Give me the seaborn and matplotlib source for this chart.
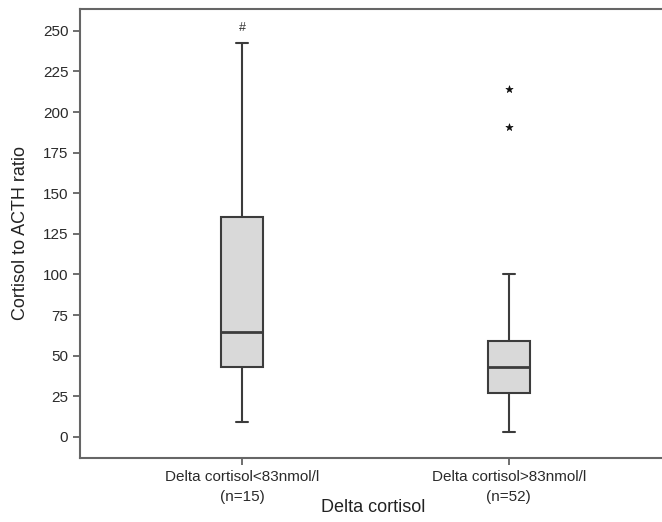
import numpy as np
import pandas as pd
import matplotlib
matplotlib.use("Agg")
import matplotlib.pyplot as plt
import seaborn as sns

# ── Data (five-number summaries) ──────────────────────────
groups = ["Delta cortisol<83nmol/l\n(n=15)", "Delta cortisol>83nmol/l\n(n=52)"]
low_min, low_q1, low_med, low_q3, low_max = 9.4, 43.2, 64.5, 135.3, 242.2
high_min, high_q1, high_med, high_q3, high_max = 2.9, 26.8, 43.2, 59.0, 100.1
outlier_vals = [214.2, 190.6]
outlier_group = [groups[1], groups[1]]
yticks = [0, 25, 50, 75, 100, 125, 150, 175, 200, 225, 250]

df = pd.DataFrame({
    "group": [groups[0]] * 5 + [groups[1]] * 5,
    "ratio": [low_min, low_q1, low_med, low_q3, low_max,
              high_min, high_q1, high_med, high_q3, high_max],
})
out_df = pd.DataFrame({"group": outlier_group, "ratio": outlier_vals})

sns.set_style("white")
plt.rcParams["font.family"] = ["Liberation Sans", "DejaVu Sans"]

fig = plt.figure(figsize=(6.62, 5.22), dpi=100)
ax = fig.add_axes([0.121, 0.123, 0.885, 0.86])

edge = "#3c3c3c"
sns.boxplot(data=df, x="group", y="ratio", order=groups, whis=(0, 100),
            width=0.158, color="#d9d9d9", linecolor=edge, linewidth=1.5,
            capwidths=0.045, ax=ax,
            medianprops={"color": edge, "linewidth": 2})
sns.scatterplot(data=out_df, x="group", y="ratio", marker="*", s=30,
                color="#111111", edgecolor="#111111", ax=ax)

# '#' marker above group 1
ax.text(0, 252, "#", ha="center", va="center", fontsize=9, color="#333333")

ax.set_xlim(-0.609, 1.59)
ax.set_ylim(-12.9, 263.5)
ax.set_yticks(yticks)
ax.tick_params(axis="both", direction="out", length=5, width=1.2,
               color="#555555", labelsize=11, labelcolor="#2a2a2a",
               left=True, bottom=True)
for lbl in ax.get_xticklabels():
    lbl.set_linespacing(1.6)
ax.set_ylabel("Cortisol to ACTH ratio", fontsize=13, color="#222222", labelpad=10)
ax.set_xlabel("Delta cortisol", fontsize=13, color="#222222", labelpad=-4)

for side in ["left", "bottom", "top"]:
    ax.spines[side].set_color("#666666")
    ax.spines[side].set_linewidth(1.5)
ax.spines["right"].set_visible(False)

fig.savefig("out.png", dpi=100)
